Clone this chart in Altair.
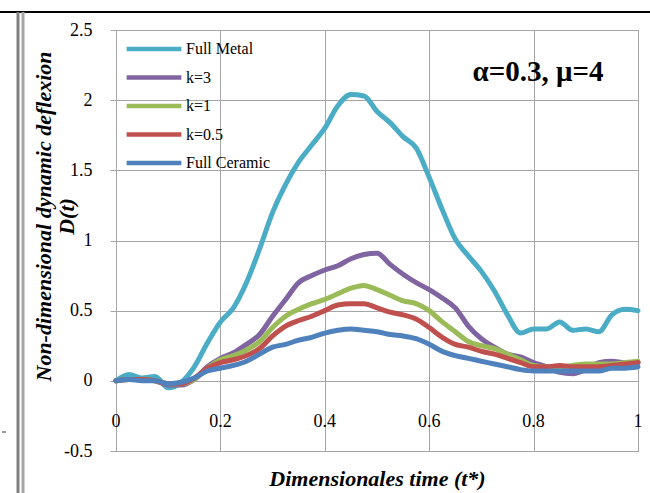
import altair as alt
import pandas as pd

T = [0.0, 0.025, 0.05, 0.075, 0.1, 0.125, 0.15, 0.175, 0.2, 0.225, 0.25, 0.275, 0.3,
     0.325, 0.35, 0.375, 0.4, 0.425, 0.45, 0.475, 0.5, 0.525, 0.55, 0.575, 0.6, 0.625,
     0.65, 0.675, 0.7, 0.725, 0.75, 0.775, 0.8, 0.825, 0.85, 0.875, 0.9, 0.925, 0.95,
     0.975, 1.0]

FULL_METAL = [0.0, 0.045, 0.02, 0.03, -0.05, -0.01, 0.10, 0.27, 0.42, 0.52, 0.70, 0.94,
              1.20, 1.40, 1.56, 1.68, 1.80, 1.96, 2.04, 2.03, 1.92, 1.84, 1.74, 1.66, 1.45,
              1.22, 1.01, 0.89, 0.78, 0.64, 0.47, 0.34, 0.37, 0.37, 0.42, 0.36, 0.37, 0.35,
              0.47, 0.51, 0.50]
K3 = [0.0, 0.01, 0.01, 0.0, -0.03, -0.03, 0.01, 0.10, 0.16, 0.20, 0.26, 0.33, 0.46, 0.58,
      0.70, 0.75, 0.79, 0.82, 0.87, 0.90, 0.91, 0.83, 0.76, 0.70, 0.65, 0.59, 0.52, 0.39,
      0.30, 0.24, 0.19, 0.17, 0.13, 0.10, 0.06, 0.05, 0.08, 0.13, 0.14, 0.13, 0.13]
K1 = [0.0, 0.01, 0.01, 0.0, -0.02, -0.02, 0.01, 0.09, 0.15, 0.18, 0.22, 0.28, 0.38, 0.46,
      0.51, 0.55, 0.58, 0.62, 0.66, 0.68, 0.65, 0.61, 0.57, 0.55, 0.50, 0.42, 0.35, 0.28,
      0.25, 0.23, 0.19, 0.15, 0.11, 0.10, 0.10, 0.11, 0.12, 0.12, 0.12, 0.13, 0.14]
K05 = [0.0, 0.01, 0.01, 0.0, -0.02, -0.02, 0.02, 0.09, 0.13, 0.15, 0.18, 0.23, 0.32, 0.39,
       0.43, 0.46, 0.50, 0.54, 0.55, 0.55, 0.52, 0.49, 0.47, 0.44, 0.38, 0.31, 0.26, 0.24,
       0.21, 0.19, 0.16, 0.13, 0.10, 0.10, 0.11, 0.10, 0.10, 0.10, 0.11, 0.12, 0.13]
FULL_CERAMIC = [0.0, 0.01, 0.0, 0.0, -0.02, -0.01, 0.02, 0.07, 0.09, 0.11, 0.14, 0.19, 0.24,
                0.26, 0.29, 0.31, 0.34, 0.36, 0.37, 0.36, 0.35, 0.33, 0.32, 0.30, 0.26, 0.21,
                0.18, 0.16, 0.14, 0.12, 0.10, 0.08, 0.07, 0.07, 0.07, 0.07, 0.07, 0.07, 0.09,
                0.09, 0.10]

SERIES = ["Full Metal", "k=3", "k=1", "k=0.5", "Full Ceramic"]
COLORS = ["#4BACC6", "#8064A2", "#9BBB59", "#C0504D", "#4F81BD"]
VALUES = [FULL_METAL, K3, K1, K05, FULL_CERAMIC]

X_TICKS = [0, 0.2, 0.4, 0.6, 0.8, 1]
X_LABELS = ["0", "0.2", "0.4", "0.6", "0.8", "1"]
Y_TICKS = [-0.5, 0, 0.5, 1, 1.5, 2, 2.5]

rows = []
for si, (name, vals) in enumerate(zip(SERIES, VALUES)):
    for t, v in zip(T, vals):
        rows.append({"t": t, "D": v, "series": name, "k": si})
df = pd.DataFrame(rows)

GRID = "#a6a6a6"
SERIF = "Liberation Serif"

x_scale = alt.Scale(domain=[0, 1], nice=False, zero=False)
y_scale = alt.Scale(domain=[-0.5, 2.5], nice=False, zero=False)

lines = alt.Chart(df).mark_line(
    strokeWidth=5, strokeCap="round", strokeJoin="round", interpolate="monotone"
).encode(
    x=alt.X("t:Q", scale=x_scale, axis=alt.Axis(
        values=X_TICKS, labels=False, ticks=False, domain=False, grid=True,
        gridColor=GRID, gridWidth=1,
        title="Dimensionales time (t*)", titleFont=SERIF, titleFontSize=22,
        titleFontStyle="italic", titleFontWeight="bold", titleColor="black",
        titlePadding=17)),
    y=alt.Y("D:Q", scale=y_scale, axis=alt.Axis(
        values=Y_TICKS, labelExpr="'' + datum.value", grid=True, gridColor=GRID,
        gridWidth=1, domain=False, tickColor=GRID, tickSize=6, labelPadding=18,
        labelFont=SERIF, labelFontSize=18, labelColor="black",
        title=["Non-dimensional dynamic deflexion", "D(t)"], titleFont=SERIF,
        titleFontSize=22, titleFontStyle="italic", titleFontWeight="bold",
        titleColor="black", titleAngle=-90, titleAlign="center", titleBaseline="top",
        titleX=-83, titleY=186, titleLineHeight=23)),
    color=alt.Color("series:N", scale=alt.Scale(domain=SERIES, range=COLORS),
                    legend=alt.Legend(
                        orient="none", legendX=8, legendY=11, title=None,
                        symbolType="stroke", symbolSize=3000, symbolStrokeWidth=4.5,
                        clipHeight=16, rowPadding=12.5, labelOffset=2, padding=0,
                        labelFont=SERIF, labelFontSize=16, labelColor="black")),
    order=alt.Order("k:Q"),
    detail="k:Q",
)

xlab_df = pd.DataFrame({"t": X_TICKS, "lab": X_LABELS})
xlabels = alt.Chart(xlab_df).mark_text(
    font=SERIF, fontSize=18, color="black", baseline="middle", align="center"
).encode(x=alt.X("t:Q", scale=x_scale), y=alt.value(392), text="lab:N")

note = alt.Chart(pd.DataFrame({"s": ["α=0.3, μ=4"]})).mark_text(
    font=SERIF, fontSize=29, fontWeight="bold", color="black", align="center",
    baseline="middle"
).encode(x=alt.value(422), y=alt.value(42), text="s:N")

one = pd.DataFrame({"a": [0]})
top_line = alt.Chart(one).mark_rule(color="black", strokeWidth=2).encode(
    x=alt.value(-116), x2=alt.value(534), y=alt.value(-18))
bar1 = alt.Chart(one).mark_rule(color="#808080", strokeWidth=3).encode(
    x=alt.value(-98), y=alt.value(-18), y2=alt.value(463))
bar2 = alt.Chart(one).mark_rule(color="#a6a6a6", strokeWidth=3).encode(
    x=alt.value(-93), y=alt.value(-18), y2=alt.value(463))
dash = alt.Chart(one).mark_rule(color="#333333", strokeWidth=1).encode(
    x=alt.value(-114), x2=alt.value(-110), y=alt.value(402))

chart = alt.layer(top_line, bar1, bar2, dash, lines, xlabels, note).properties(
    width=522, height=421,
    autosize=alt.AutoSizeParams(type="none"),
    padding={"left": 116, "top": 30, "right": 12, "bottom": 42},
    background="white",
).configure_view(stroke=GRID, strokeWidth=1)

chart.save("out.html", embed_options={"renderer": "svg", "actions": False})
